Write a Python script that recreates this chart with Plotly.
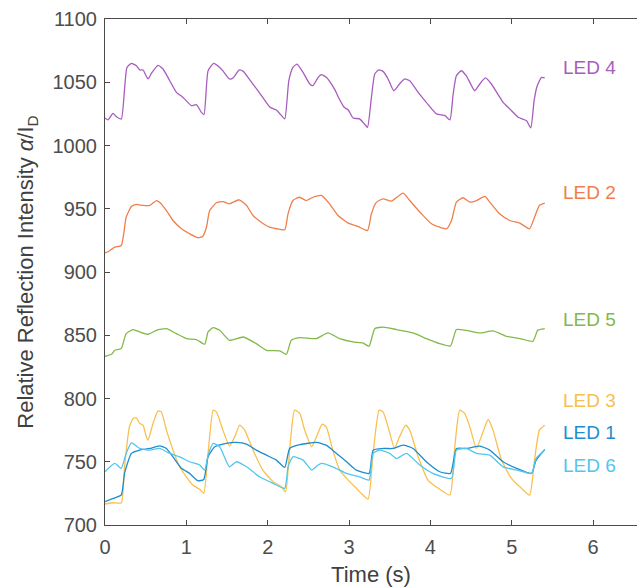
import plotly.graph_objects as go

# ---- data ----
t4 = [0.0, 0.037, 0.098, 0.14, 0.2, 0.242, 0.27, 0.325, 0.386, 0.427, 0.467, 0.529, 0.57, 0.652, 0.713, 0.796, 0.878, 0.96, 1.062, 1.124, 1.185, 1.217, 1.267, 1.336, 1.41, 1.45, 1.53, 1.575, 1.65, 1.70, 1.78, 1.88, 1.94, 2.03, 2.107, 2.17, 2.21, 2.26, 2.31, 2.36, 2.435, 2.517, 2.557, 2.62, 2.66, 2.72, 2.82, 2.88, 2.94, 2.99, 3.05, 3.13, 3.19, 3.227, 3.275, 3.316, 3.365, 3.418, 3.48, 3.55, 3.62, 3.685, 3.746, 3.85, 3.95, 4.075, 4.18, 4.24, 4.28, 4.32, 4.38, 4.44, 4.485, 4.545, 4.607, 4.677, 4.75, 4.894, 4.976, 5.08, 5.18, 5.234, 5.275, 5.31, 5.366, 5.406]
v4 = [1021.8, 1020.2, 1025.4, 1022.8, 1021.0, 1046.0, 1061.7, 1064.9, 1063.0, 1059.7, 1059.7, 1052.6, 1057.0, 1063.3, 1060.5, 1051.2, 1042.0, 1038.0, 1031.5, 1032.3, 1026.2, 1024.4, 1059.0, 1064.9, 1061.7, 1059.0, 1052.6, 1053.4, 1059.7, 1058.6, 1051.8, 1043.3, 1038.0, 1030.2, 1028.1, 1023.6, 1021.0, 1051.2, 1061.7, 1064.4, 1057.8, 1048.6, 1047.3, 1053.9, 1056.0, 1053.9, 1044.7, 1036.8, 1030.2, 1028.1, 1021.8, 1021.0, 1017.0, 1014.4, 1038.0, 1056.5, 1059.7, 1058.6, 1052.6, 1043.3, 1048.6, 1052.6, 1051.2, 1042.0, 1034.1, 1025.0, 1023.6, 1020.2, 1040.7, 1055.2, 1059.1, 1055.2, 1049.9, 1043.3, 1048.6, 1053.4, 1048.6, 1034.1, 1028.9, 1022.3, 1019.7, 1013.9, 1035.4, 1046.5, 1053.9, 1053.4]

t2 = [0.0, 0.03, 0.12, 0.2, 0.23, 0.26, 0.325, 0.386, 0.467, 0.55, 0.632, 0.67, 0.755, 0.836, 0.94, 1.04, 1.14, 1.2, 1.247, 1.287, 1.37, 1.45, 1.53, 1.65, 1.74, 1.82, 1.92, 2.025, 2.107, 2.21, 2.25, 2.31, 2.39, 2.475, 2.557, 2.66, 2.76, 2.865, 2.99, 3.11, 3.227, 3.275, 3.337, 3.418, 3.52, 3.665, 3.746, 3.89, 4.013, 4.115, 4.2, 4.26, 4.32, 4.40, 4.485, 4.566, 4.67, 4.73, 4.85, 4.976, 5.1, 5.22, 5.28, 5.34, 5.406]
v2 = [915.2, 915.8, 919.7, 921.0, 930.2, 943.3, 951.8, 953.4, 952.6, 952.6, 956.5, 955.2, 948.6, 940.7, 934.2, 930.2, 927.1, 928.1, 935.4, 948.6, 954.7, 955.7, 953.9, 957.1, 952.6, 944.7, 939.4, 935.4, 934.2, 933.4, 946.0, 956.5, 959.1, 956.5, 959.1, 960.5, 953.9, 944.7, 938.6, 936.0, 932.8, 946.0, 955.2, 957.8, 956.0, 962.3, 956.5, 946.0, 938.1, 935.4, 934.2, 940.7, 955.2, 958.7, 955.2, 956.5, 959.7, 955.2, 946.0, 940.7, 938.6, 934.2, 943.3, 952.6, 954.4]

t5 = [0.0, 0.08, 0.12, 0.2, 0.26, 0.345, 0.427, 0.53, 0.632, 0.755, 0.878, 1.0, 1.124, 1.226, 1.267, 1.33, 1.41, 1.53, 1.70, 1.86, 1.985, 2.15, 2.23, 2.29, 2.39, 2.6, 2.74, 2.886, 3.05, 3.17, 3.246, 3.316, 3.418, 3.583, 3.787, 3.95, 4.115, 4.247, 4.32, 4.44, 4.607, 4.77, 4.935, 5.1, 5.26, 5.32, 5.406]
v5 = [833.4, 835.0, 838.1, 839.5, 851.3, 854.5, 852.6, 850.8, 853.9, 855.2, 851.3, 847.4, 846.6, 842.9, 852.6, 856.0, 853.9, 846.0, 848.6, 843.4, 838.1, 837.6, 835.0, 846.0, 848.1, 847.4, 851.8, 847.4, 844.7, 843.9, 841.3, 855.2, 856.5, 854.5, 851.8, 847.4, 843.4, 841.5, 854.5, 853.9, 851.8, 853.4, 849.2, 847.4, 845.2, 853.9, 855.2]

t3 = [0.0, 0.1, 0.2, 0.24, 0.30, 0.345, 0.386, 0.427, 0.467, 0.508, 0.53, 0.59, 0.652, 0.693, 0.755, 0.836, 0.918, 1.0, 1.08, 1.164, 1.214, 1.267, 1.33, 1.37, 1.45, 1.53, 1.595, 1.656, 1.717, 1.82, 1.94, 2.066, 2.17, 2.22, 2.27, 2.33, 2.394, 2.455, 2.54, 2.6, 2.67, 2.72, 2.80, 2.886, 2.99, 3.09, 3.15, 3.234, 3.296, 3.37, 3.418, 3.48, 3.56, 3.62, 3.697, 3.746, 3.85, 3.97, 4.115, 4.24, 4.30, 4.36, 4.42, 4.485, 4.566, 4.64, 4.71, 4.77, 4.874, 4.997, 5.12, 5.22, 5.28, 5.34, 5.406]
v3 = [716.6, 717.6, 717.6, 746.0, 777.6, 784.2, 784.7, 780.3, 778.9, 769.7, 767.1, 780.3, 790.2, 789.4, 775.0, 759.2, 746.0, 738.1, 731.6, 728.2, 725.0, 756.6, 790.8, 789.4, 775.0, 762.4, 769.7, 778.9, 775.0, 759.2, 743.4, 734.2, 730.2, 726.3, 759.2, 790.8, 788.2, 775.0, 761.8, 769.7, 779.7, 777.6, 759.2, 743.4, 735.5, 729.0, 725.0, 720.5, 756.6, 790.8, 789.4, 777.6, 760.5, 769.7, 778.9, 775.0, 753.9, 735.5, 728.2, 723.7, 761.8, 790.8, 788.2, 777.6, 760.5, 772.4, 783.4, 775.0, 751.3, 736.9, 729.0, 723.7, 751.3, 775.0, 778.9]

t1 = [0.0, 0.1, 0.2, 0.24, 0.325, 0.427, 0.55, 0.67, 0.755, 0.836, 0.94, 1.04, 1.14, 1.214, 1.267, 1.35, 1.49, 1.615, 1.74, 1.86, 1.985, 2.107, 2.21, 2.27, 2.394, 2.6, 2.72, 2.845, 2.97, 3.09, 3.246, 3.296, 3.418, 3.54, 3.665, 3.787, 3.95, 4.115, 4.247, 4.32, 4.44, 4.607, 4.73, 4.894, 5.06, 5.243, 5.3, 5.406]
v1 = [718.4, 721.0, 723.7, 740.8, 756.6, 759.2, 760.5, 762.6, 760.5, 753.9, 744.8, 740.8, 735.0, 736.0, 753.9, 761.8, 764.5, 765.3, 763.9, 759.2, 755.2, 751.3, 745.5, 760.5, 763.5, 765.3, 763.1, 756.6, 750.0, 743.4, 740.8, 759.2, 760.5, 760.5, 763.1, 760.5, 750.0, 742.1, 740.8, 760.5, 760.5, 762.4, 759.2, 750.0, 744.8, 740.8, 751.3, 759.7]

t6 = [0.0, 0.12, 0.2, 0.26, 0.325, 0.427, 0.55, 0.67, 0.796, 0.918, 1.04, 1.164, 1.226, 1.267, 1.33, 1.41, 1.53, 1.615, 1.74, 1.90, 2.066, 2.21, 2.25, 2.31, 2.435, 2.54, 2.62, 2.66, 2.80, 2.97, 3.13, 3.246, 3.296, 3.377, 3.50, 3.583, 3.706, 3.87, 4.03, 4.26, 4.32, 4.44, 4.566, 4.73, 4.894, 5.06, 5.243, 5.3, 5.406]
v6 = [742.1, 748.7, 744.8, 756.6, 765.0, 760.5, 759.2, 760.5, 756.6, 753.9, 750.0, 747.4, 743.4, 755.2, 764.5, 761.8, 746.0, 750.0, 746.0, 738.1, 732.9, 729.0, 746.0, 753.9, 751.3, 743.4, 747.4, 748.7, 746.0, 740.8, 738.1, 735.5, 756.6, 759.2, 756.6, 752.6, 756.6, 747.4, 740.8, 736.9, 759.2, 760.5, 756.6, 755.2, 746.0, 743.4, 740.8, 752.6, 759.2]

labels = ["LED 4", "LED 2", "LED 5", "LED 3", "LED 1", "LED 6"]
label_y = [1061.5, 962.8, 862.6, 798.7, 773.4, 747.4]
colors = ["#A85CBF", "#F07E4B", "#82B94A", "#F8C04E", "#1D8DCF", "#52C6EF"]
series = [(t4, v4), (t2, v2), (t5, v5), (t3, v3), (t1, v1), (t6, v6)]

xticks = [0, 1, 2, 3, 4, 5, 6]
yticks = [700, 750, 800, 850, 900, 950, 1000, 1050, 1100]

FONT = "Liberation Sans, Arial, Helvetica"

fig = go.Figure()
for (tx, vy), c, name in zip(series, colors, labels):
    fig.add_trace(go.Scatter(x=tx, y=vy, mode="lines", name=name,
                             line=dict(color=c, width=1.3, shape="spline", smoothing=0.5),
                             showlegend=False, hoverinfo="skip"))

for name, y, c in zip(labels, label_y, colors):
    fig.add_annotation(x=5.6, y=y, text=name, showarrow=False, xanchor="left",
                       yanchor="middle", font=dict(size=19, color=c, family=FONT))

axis_col = "#4a4a4a"
fig.update_layout(
    width=637, height=587,
    margin=dict(l=105, r=0, t=19, b=62, autoexpand=False),
    paper_bgcolor="white", plot_bgcolor="white",
    font=dict(family=FONT, color="#4d4d4d", size=20),
    xaxis=dict(range=[0, 6.54], tickvals=xticks, ticks="inside", ticklen=5,
               tickcolor=axis_col, showline=True, linecolor=axis_col, linewidth=1,
               mirror="ticks", showgrid=False, zeroline=False, automargin=False,
               ticklabelstandoff=4,
               tickfont=dict(size=20, color="#4d4d4d", family=FONT),
               title=dict(text="Time (s)", font=dict(size=22, color="#404040", family=FONT), standoff=9)),
    yaxis=dict(range=[700, 1100], tickvals=yticks, ticks="inside", ticklen=5,
               tickcolor=axis_col, showline=True, linecolor=axis_col, linewidth=1,
               mirror=False, showgrid=False, zeroline=False, automargin=False,
               ticklabelstandoff=3,
               tickfont=dict(size=20, color="#4d4d4d", family=FONT),
               title=dict(text="Relative Reflection Intensity <i>α</i>/I<sub>D</sub>",
                          font=dict(size=22, color="#404040", family=FONT), standoff=12)),
)

fig.write_html("out.html", config={"displayModeBar": False},
               post_script="document.body.style.margin='0';document.body.style.overflow='hidden';")
